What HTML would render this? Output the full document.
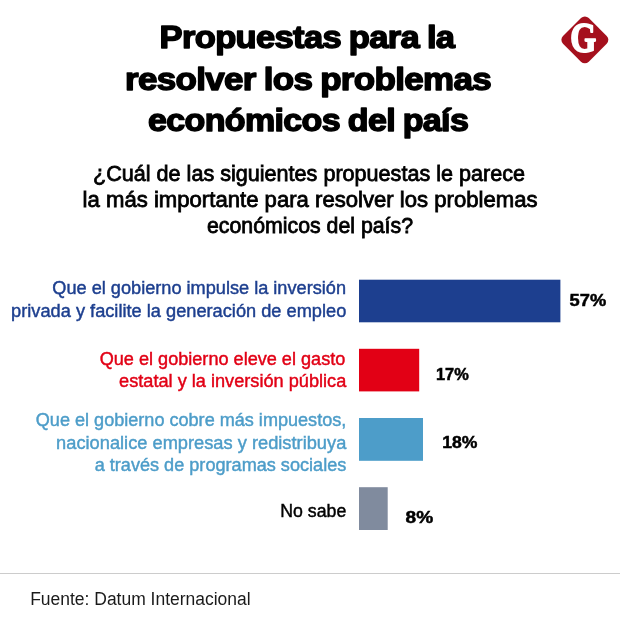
<!DOCTYPE html>
<html lang="es">
<head>
<meta charset="utf-8">
<title>Propuestas para la resolver los problemas económicos del país</title>
<style>
html,body{margin:0;padding:0;background:#fff;}
body{width:620px;height:630px;overflow:hidden;}
svg{display:block;font-family:"Liberation Sans", sans-serif;}
.ttl{stroke:#000;stroke-width:1.5px;stroke-linejoin:round;word-spacing:-1px;letter-spacing:-0.6px;}
.sub{stroke:#000;stroke-width:0.8px;}
.lb{stroke-width:0.45px;}
.pc{stroke:#000;stroke-width:0.5px;}
</style>
</head>
<body>
<svg width="620" height="630" viewBox="0 0 620 630">
<rect width="620" height="630" fill="#fff"/>

<g>
<rect x="566.6" y="21.8" width="36.4" height="36.4" rx="5.5" ry="5.5" fill="#a5101d" transform="rotate(45 585 40)"/>
<text x="583.2" y="51.8" font-family='"Liberation Serif", serif' font-weight="bold" font-size="42" fill="#fff" stroke="#fff" stroke-width="1.8" stroke-linejoin="round" text-anchor="middle" textLength="26" lengthAdjust="spacingAndGlyphs">G</text>
</g>


<rect x="359" y="279.7" width="201.4" height="42.6" fill="#1d3f8f"/>
<rect x="359" y="348.8" width="60.2" height="42.6" fill="#e20015"/>
<rect x="359" y="418" width="64" height="42.8" fill="#4d9dc9"/>
<rect x="359" y="487.2" width="28.7" height="42.8" fill="#808b9e"/>
<rect x="0" y="573" width="620" height="1" fill="#cccccc"/>

<text x="159.6" y="47.9" font-size="32" font-weight="bold" fill="#000" text-anchor="start" textLength="294.8" lengthAdjust="spacingAndGlyphs" class="ttl">Propuestas para la</text>
<text x="125.0" y="89.6" font-size="32" font-weight="bold" fill="#000" text-anchor="start" textLength="366" lengthAdjust="spacingAndGlyphs" class="ttl">resolver los problemas</text>
<text x="148.0" y="131.3" font-size="32" font-weight="bold" fill="#000" text-anchor="start" textLength="320.2" lengthAdjust="spacingAndGlyphs" class="ttl">económicos del país</text>
<text x="93" y="180.9" font-size="22.3" font-weight="normal" fill="#000" text-anchor="start" textLength="432" lengthAdjust="spacingAndGlyphs" class="sub">¿Cuál de las siguientes propuestas le parece</text>
<text x="82.6" y="206.9" font-size="22.3" font-weight="normal" fill="#000" text-anchor="start" textLength="455" lengthAdjust="spacingAndGlyphs" class="sub">la más importante para resolver los problemas</text>
<text x="207" y="233.3" font-size="22.3" font-weight="normal" fill="#000" text-anchor="start" textLength="206" lengthAdjust="spacingAndGlyphs" class="sub">económicos del país?</text>
<text x="52.3" y="293.9" font-size="18.7" font-weight="normal" fill="#1d3f8f" text-anchor="start" textLength="293.7" lengthAdjust="spacingAndGlyphs" class="lb" stroke="#1d3f8f">Que el gobierno impulse la inversión</text>
<text x="11.1" y="316.6" font-size="18.7" font-weight="normal" fill="#1d3f8f" text-anchor="start" textLength="335.2" lengthAdjust="spacingAndGlyphs" class="lb" stroke="#1d3f8f">privada y facilite la generación de empleo</text>
<text x="99.7" y="365.3" font-size="18.7" font-weight="normal" fill="#e20015" text-anchor="start" textLength="245.6" lengthAdjust="spacingAndGlyphs" class="lb" stroke="#e20015">Que el gobierno eleve el gasto</text>
<text x="119.1" y="387.2" font-size="18.7" font-weight="normal" fill="#e20015" text-anchor="start" textLength="227.2" lengthAdjust="spacingAndGlyphs" class="lb" stroke="#e20015">estatal y la inversión pública</text>
<text x="35.8" y="426.1" font-size="18.7" font-weight="normal" fill="#4d9dc9" text-anchor="start" textLength="310.5" lengthAdjust="spacingAndGlyphs" class="lb" stroke="#4d9dc9">Que el gobierno cobre más impuestos,</text>
<text x="56.1" y="448.5" font-size="18.7" font-weight="normal" fill="#4d9dc9" text-anchor="start" textLength="290.2" lengthAdjust="spacingAndGlyphs" class="lb" stroke="#4d9dc9">nacionalice empresas y redistribuya</text>
<text x="94.7" y="471.1" font-size="18.7" font-weight="normal" fill="#4d9dc9" text-anchor="start" textLength="251.6" lengthAdjust="spacingAndGlyphs" class="lb" stroke="#4d9dc9">a través de programas sociales</text>
<text x="280.3" y="517.0" font-size="18.7" font-weight="normal" fill="#000" text-anchor="start" textLength="66.0" lengthAdjust="spacingAndGlyphs" class="lb" stroke="#000">No sabe</text>
<text x="569.6" y="306.0" font-size="17" font-weight="bold" fill="#000" text-anchor="start" textLength="36.6" lengthAdjust="spacingAndGlyphs" class="pc">57%</text>
<text x="436.0" y="379.8" font-size="17" font-weight="bold" fill="#000" text-anchor="start" textLength="32.8" lengthAdjust="spacingAndGlyphs" class="pc">17%</text>
<text x="442.2" y="447.8" font-size="17" font-weight="bold" fill="#000" text-anchor="start" textLength="35.2" lengthAdjust="spacingAndGlyphs" class="pc">18%</text>
<text x="405.6" y="522.8" font-size="17" font-weight="bold" fill="#000" text-anchor="start" textLength="27.6" lengthAdjust="spacingAndGlyphs" class="pc">8%</text>
<text x="30.2" y="605.4" font-size="18" font-weight="normal" fill="#1a1a1a" text-anchor="start" textLength="220.4" lengthAdjust="spacingAndGlyphs">Fuente: Datum Internacional</text>
</svg>
</body>
</html>
